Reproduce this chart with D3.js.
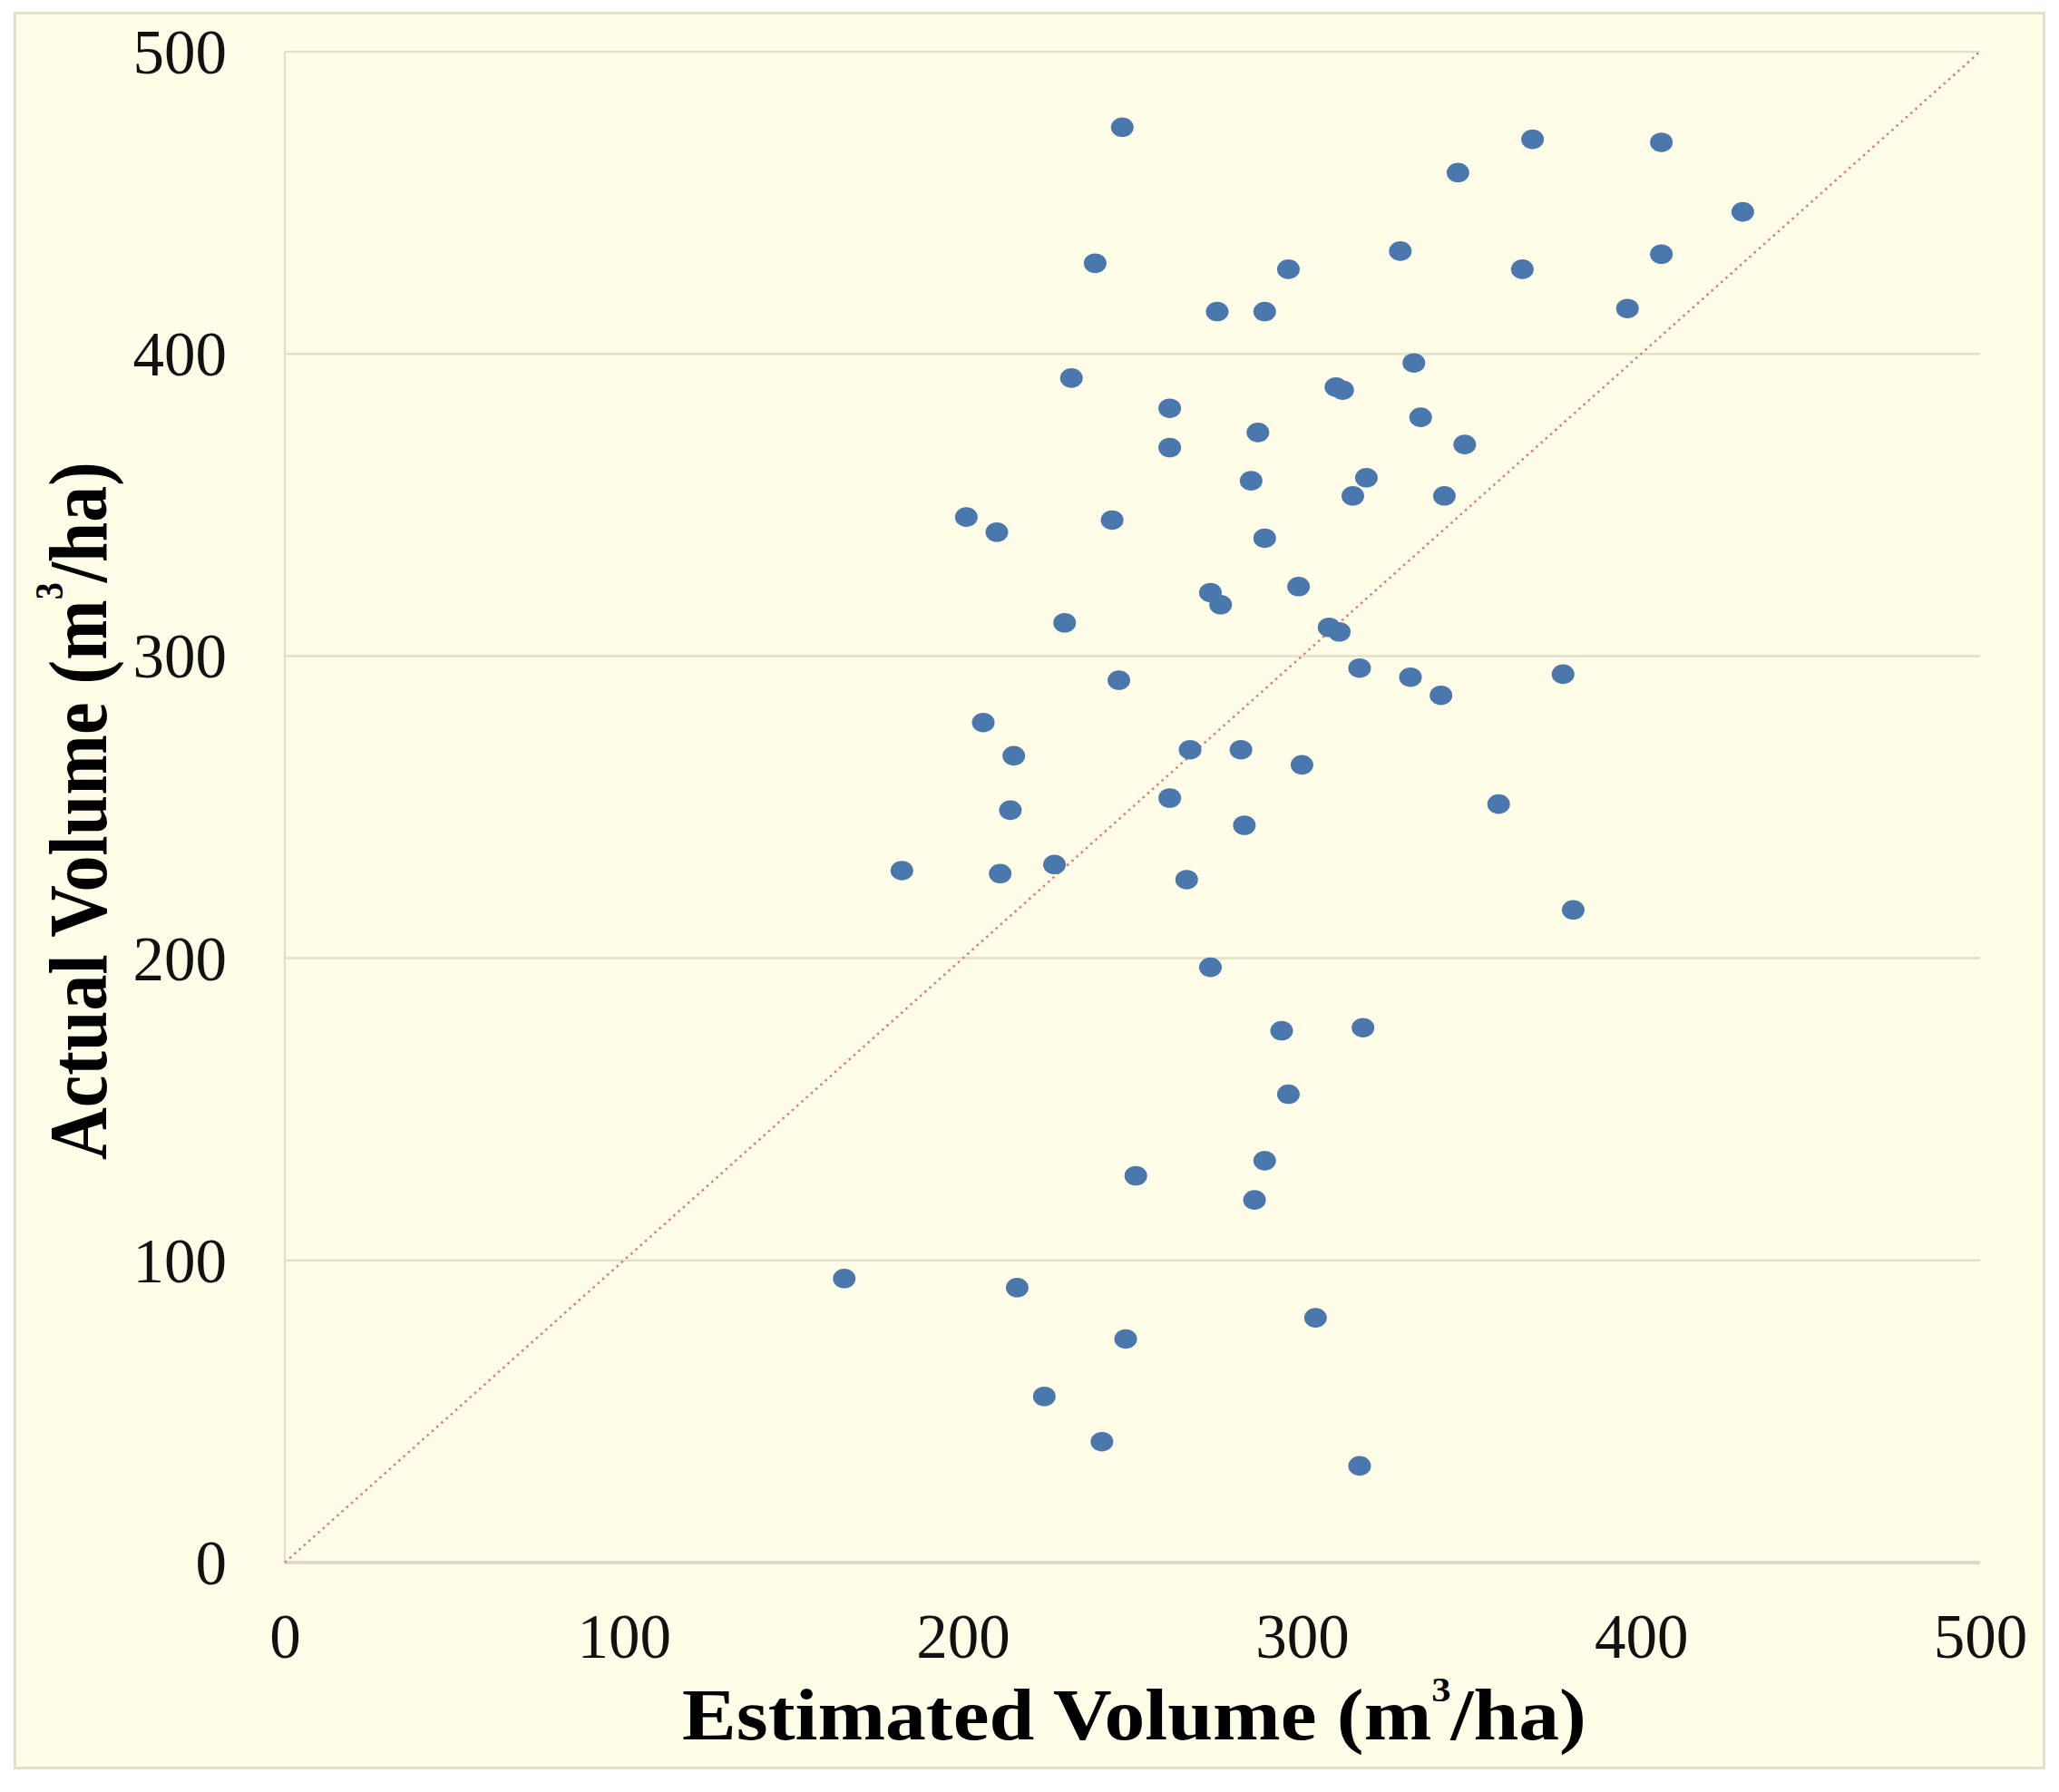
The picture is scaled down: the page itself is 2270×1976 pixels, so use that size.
<!DOCTYPE html>
<html>
<head>
<meta charset="utf-8">
<script src="https://cdn.jsdelivr.net/npm/d3@7"></script>
<style>
  html, body { margin: 0; padding: 0; background: #ffffff; }
  svg { display: block; }
</style>
</head>
<body>
<svg id="chart" width="2270" height="1976"></svg>
<script>
// ---- data ----
const estimated = [247,239,296,275,289,232,310,312,261,287,261,285,315,319,201,210,244,289,299,273,276,230,308,311,317,246,206,215,267,282,300,261,214,
                   368,406,346,430,329,406,365,396,333,335,348,342,332,341,377,358,
                   283,182,211,227,266,273,294,318,296,289,251,286,165,216,304,248,224,241,317,380];
const actual    = [475,430,428,414,414,392,389,388,382,374,369,358,353,359,346,341,345,339,323,321,317,311,309.5,308,296,292,278,267,269,269,264,253,249,
                   471,470,460,447,434,433,428,415,397,379,370,353,293,287,294,251,
                   244,229,228,231,226,197,176,177,155,133,128,120,94,91,81,74,55,40,32,216];
const xTicks = [0,100,200,300,400,500];
const yTicks = [0,100,200,300,400,500];
const xTitle = "Estimated Volume (m";
const yTitle = "Actual Volume (m";
const titleSup = "3";
const titleEnd = "/ha)";

const points = estimated.map((e, i) => ({ est: e, act: actual[i] }));

const svg = d3.select("#chart");
const serif = "'Liberation Serif', 'Times New Roman', 'DejaVu Serif', serif";

// frame
svg.append("rect")
  .attr("x", 16.5).attr("y", 14.5)
  .attr("width", 2237).attr("height", 1935)
  .attr("fill", "#fffde8")
  .attr("stroke", "#e3dfca")
  .attr("stroke-width", 3);

const x = d3.scaleLinear().domain([0, 500]).range([314, 2183]);
const y = d3.scaleLinear().domain([0, 500]).range([1723, 57]);

// gridlines
svg.append("g").selectAll("line")
  .data(yTicks.filter(d => d > 0))
  .join("line")
  .attr("x1", x(0)).attr("x2", x(500))
  .attr("y1", d => y(d)).attr("y2", d => y(d))
  .attr("stroke", "#e2dfca")
  .attr("stroke-width", 2.5);

// left axis line
svg.append("line")
  .attr("x1", x(0)).attr("x2", x(0))
  .attr("y1", y(500)).attr("y2", y(0))
  .attr("stroke", "#e2dfca")
  .attr("stroke-width", 2.5);

// bottom axis line
svg.append("line")
  .attr("x1", x(0)).attr("x2", x(500))
  .attr("y1", y(0)).attr("y2", y(0))
  .attr("stroke", "#dcd9c4")
  .attr("stroke-width", 4);

// 1:1 line
svg.append("line")
  .attr("x1", x(0)).attr("y1", y(0))
  .attr("x2", x(500)).attr("y2", y(500))
  .attr("stroke", "#dd7a74")
  .attr("stroke-width", 2.5)
  .attr("stroke-dasharray", "2.5,4.5");

// axes (labels only)
const yAxis = svg.append("g")
  .attr("transform", `translate(${x(0)},0)`)
  .call(d3.axisLeft(y).tickValues(yTicks).tickSize(0).tickPadding(64).tickFormat(d3.format("d")));
const xAxis = svg.append("g")
  .attr("transform", `translate(0,${y(0)})`)
  .call(d3.axisBottom(x).tickValues(xTicks).tickSize(0).tickPadding(56).tickFormat(d3.format("d")));
[yAxis, xAxis].forEach(g => {
  g.select(".domain").remove();
  g.selectAll("text")
    .attr("font-family", serif)
    .attr("font-size", 69)
    .attr("fill", "#111111");
});
yAxis.selectAll("text").attr("dy", "0.34em");

// points
svg.append("g").selectAll("ellipse")
  .data(points)
  .join("ellipse")
  .attr("cx", d => x(d.est))
  .attr("cy", d => y(d.act))
  .attr("rx", 12.5)
  .attr("ry", 10.8)
  .attr("fill", "#4a78ad");

// x title
const xt = svg.append("g")
  .attr("transform", `translate(${(x(0) + x(500)) / 2 + 2},1918) scale(1.12,1)`)
  .append("text")
  .attr("text-anchor", "middle")
  .attr("font-family", serif)
  .attr("font-weight", "bold")
  .attr("font-size", 80)
  .attr("fill", "#000");
xt.append("tspan").text(xTitle);
xt.append("tspan").attr("font-size", 38).attr("dy", -42).text(titleSup);
xt.append("tspan").attr("dy", 42).text(titleEnd);

// y title
const yt = svg.append("g")
  .attr("transform", `translate(117,${(y(0) + y(500)) / 2 + 4}) scale(1.15,1) rotate(-90)`)
  .append("text")
  .attr("text-anchor", "middle")
  .attr("font-family", serif)
  .attr("font-weight", "bold")
  .attr("font-size", 80)
  .attr("fill", "#000");
yt.append("tspan").text(yTitle);
yt.append("tspan").attr("font-size", 38).attr("dy", -42).text(titleSup);
yt.append("tspan").attr("dy", 42).text(titleEnd);
</script>
</body>
</html>
